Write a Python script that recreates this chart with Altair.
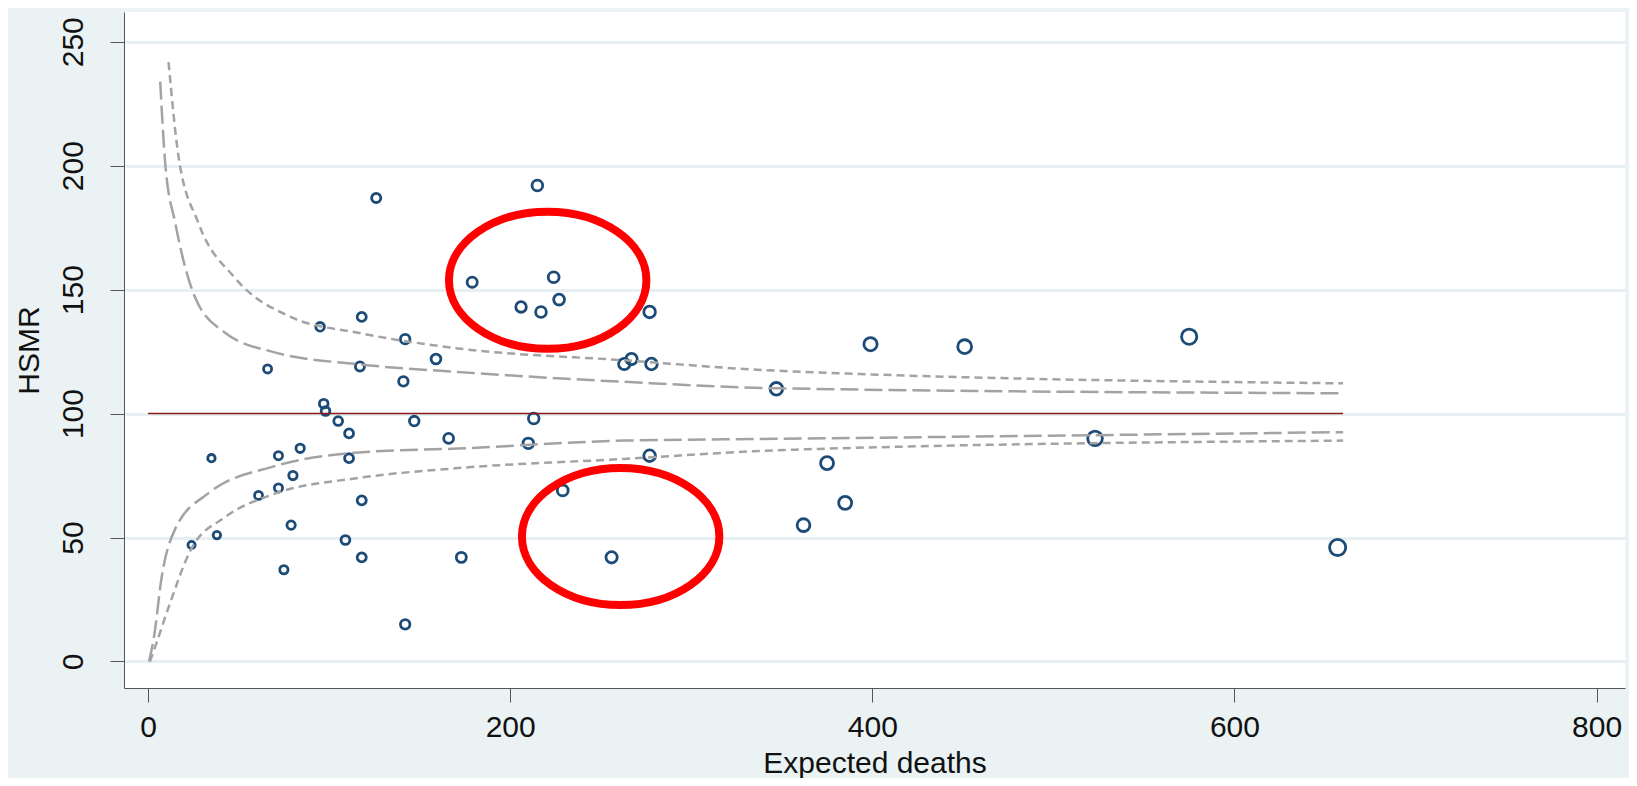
import altair as alt
import pandas as pd

# hospitals: expected deaths and HSMR
expected = [126, 215, 179, 224, 206, 217, 227, 277, 118, 95, 142, 159, 117, 66, 141,
            267, 263, 278, 347, 399, 451, 575, 97, 98, 105, 111, 147, 213, 166, 210,
            523, 35, 72, 84, 111, 277, 375, 80, 72, 61, 118, 229, 385, 79, 38, 24,
            109, 118, 173, 256, 362, 657, 75, 142]
hsmr = [187, 192, 153, 155, 143, 141, 146, 141, 139, 135, 130, 122, 119, 118, 113,
        122, 120, 120, 110, 128, 127, 131, 104, 101, 97, 92, 97, 98, 90, 88,
        90, 82, 83, 86, 82, 83, 80, 75, 70, 67, 65, 69, 64, 55, 51, 47,
        49, 42, 42, 42, 55, 46, 37, 15]

# control limits
up998_e = [11.3, 16.8, 27.8, 48, 79, 116, 171, 263, 347, 660]
up998_h = [241.8, 203.8, 176.9, 154.7, 138.9, 132.6, 126.3, 121.5, 117.3, 112.2]
up95_e = [6.7, 9.5, 15, 26, 42.5, 70, 116, 171, 263, 347, 660]
up95_h = [233.9, 200.6, 176.9, 146.8, 132.6, 124.7, 119.9, 116.8, 112.8, 110.2, 108.2]
lo95_e = [0.5, 3.1, 7.6, 15, 33, 70, 116, 171, 263, 347, 660]
lo95_h = [0, 9.2, 34.5, 53.5, 67.7, 78.8, 84.3, 85.9, 89.1, 89.8, 92.5]
lo998_e = [1, 4.9, 11.3, 24, 42.5, 70, 116, 171, 263, 347, 660]
lo998_h = [0, 8, 21.8, 45.6, 58.2, 67.7, 74, 78, 81.7, 85.2, 89.1]

# highlighted regions (ellipse centres)
ring_e = [220.7, 261]
ring_h = [153.8, 50.4]

FONT = "Liberation Sans"
xs = alt.Scale(domain=[-13.3, 815.7], nice=False, zero=False)
ys = alt.Scale(domain=[-10.7, 262], nice=False, zero=False)

pts = pd.DataFrame({"E": expected, "H": hsmr})


def limit(e, h, dash):
    df = pd.DataFrame({"E": e, "H": h, "o": range(len(e))})
    return alt.Chart(df).mark_line(
        color="#a3a3a3", strokeWidth=2.5, strokeDash=dash, interpolate="monotone"
    ).encode(x=alt.X("E:Q", scale=xs), y=alt.Y("H:Q", scale=ys), order="o:Q")


base_x = alt.X(
    "E:Q", scale=xs, title="Expected deaths",
    axis=alt.Axis(values=[0, 200, 400, 600, 800], grid=False, labelFontSize=30,
                  titleFontSize=30, titleFont=FONT, labelFont=FONT, titlePadding=6,
                  titleFontWeight="normal",
                  tickSize=14, domainColor="#555", tickColor="#555", labelColor="#111",
                  titleColor="#111", labelPadding=10),
)
base_y = alt.Y(
    "H:Q", scale=ys, title="HSMR",
    axis=alt.Axis(values=[0, 50, 100, 150, 200, 250], gridColor="#e6f0f2", gridWidth=3,
                  labelFontSize=30, titleFontSize=30, labelAngle=270, labelAlign="center",
                  labelBaseline="bottom", titleFont=FONT, labelFont=FONT, tickSize=14,
                  titleFontWeight="normal",
                  domainColor="#555", tickColor="#555", labelColor="#111",
                  titleColor="#111", titlePadding=14, labelPadding=22),
)

points = alt.Chart(pts).mark_point(
    shape="circle", filled=False, color="#1d4b78", strokeWidth=2.8, opacity=1
).encode(
    x=base_x, y=base_y,
    size=alt.Size("E:Q", scale=alt.Scale(domain=[20, 660], range=[50, 260]), legend=None),
)

ref = alt.Chart(pd.DataFrame({"E": [0, 660], "H": [100, 100]})).mark_line(
    color="#8b1a1a", strokeWidth=1.5
).encode(x=alt.X("E:Q", scale=xs), y=alt.Y("H:Q", scale=ys))

ellipse = "M -1.44 0 A 1.44 1 0 1 1 1.44 0 A 1.44 1 0 1 1 -1.44 0 Z"
rings = alt.Chart(pd.DataFrame({"E": ring_e, "H": ring_h})).mark_point(
    shape=ellipse, filled=False, color="#ff0000", strokeWidth=8, size=18800, opacity=1
).encode(x=alt.X("E:Q", scale=xs), y=alt.Y("H:Q", scale=ys))

chart = alt.layer(
    points,
    limit(up998_e, up998_h, [8, 5]),
    limit(lo998_e, lo998_h, [8, 5]),
    limit(up95_e, up95_h, [18, 6]),
    limit(lo95_e, lo95_h, [18, 6]),
    ref,
    rings,
).properties(
    width=1621, height=770, background="#eaf2f3",
    autosize=alt.AutoSizeParams(type="fit", contains="padding"),
    padding={"left": 6, "top": 4, "right": 4, "bottom": 0},
).configure_view(fill="white", stroke=None)

chart.save("out.html", embed_options={"renderer": "svg", "actions": False})
